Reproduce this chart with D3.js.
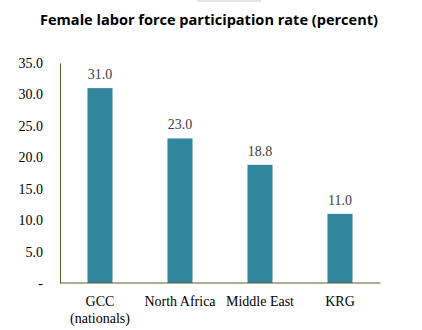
<!DOCTYPE html>
<html><head><meta charset="utf-8">
<script src="https://cdn.jsdelivr.net/npm/d3@7/dist/d3.min.js"></script>
<style>body{margin:0;background:#fff}svg{display:block}.serif{font-family:"Liberation Serif","Times New Roman",serif}</style>
</head><body>
<svg id="c" width="422" height="330"></svg>
<script>
const categories = [["GCC","(nationals)"],["North Africa"],["Middle East"],["KRG"]];
const values = [31.0, 23.0, 18.8, 11.0];
const tickValues = [0,5,10,15,20,25,30,35];
const title = "Female labor force participation rate (percent)";

const svg = d3.select("#c");
const m = {l:60, r:42, t:63, b:47};
const W = 422, H = 330;
const x = d3.scaleBand().domain(d3.range(values.length)).range([m.l, W-m.r]).paddingInner(0.6875).paddingOuter(0.34375);
const y = d3.scaleLinear().domain([0,35]).range([H-m.b, m.t]);

svg.append("rect").attr("x",197).attr("y",0).attr("width",64).attr("height",2).attr("fill","#e4e4e4");

svg.append("text").attr("x",209).attr("y",25).attr("text-anchor","middle")
  .attr("font-family","'Open Sans', sans-serif").attr("font-weight","bold").attr("font-size",14.5)
  .attr("textLength",338).attr("lengthAdjust","spacingAndGlyphs").attr("fill","#000").text(title);

svg.selectAll("rect.bar").data(values).join("rect").attr("class","bar")
  .attr("x",(d,i)=>x(i)).attr("width",x.bandwidth())
  .attr("y",d=>y(d)).attr("height",d=>y(0)-y(d)).attr("fill","#31859C");

svg.selectAll("text.val").data(values).join("text").attr("class","val serif")
  .attr("x",(d,i)=>x(i)+x.bandwidth()/2).attr("y",d=>y(d)-9)
  .attr("text-anchor","middle").attr("font-size",14)
  .attr("fill","#404040").text(d=>d.toFixed(1));

const yAxis = d3.axisLeft(y).tickValues(tickValues).tickSize(0).tickPadding(17)
  .tickFormat(d=>d===0?"-":d.toFixed(1));
const ga = svg.append("g").attr("transform",`translate(${m.l},0)`).call(yAxis);
ga.attr("font-family",null).attr("font-size",null);
ga.select(".domain").attr("stroke","#4F6228");
ga.selectAll("text").attr("class","serif").attr("font-size",14).attr("fill","#000");

svg.append("line").attr("x1",m.l).attr("x2",W-m.r+0.5).attr("y1",y(0)).attr("y2",y(0)).attr("stroke","#4F6228");

const gx = svg.append("g");
categories.forEach((lines,i)=>{
  const t = gx.append("text").attr("class","serif").attr("x",x(i)+x.bandwidth()/2).attr("y",306)
    .attr("text-anchor","middle").attr("font-size",14).attr("fill","#000");
  lines.forEach((s,j)=>t.append("tspan").attr("x",x(i)+x.bandwidth()/2).attr("dy",j?17:0).text(s));
});
</script>
</body></html>
